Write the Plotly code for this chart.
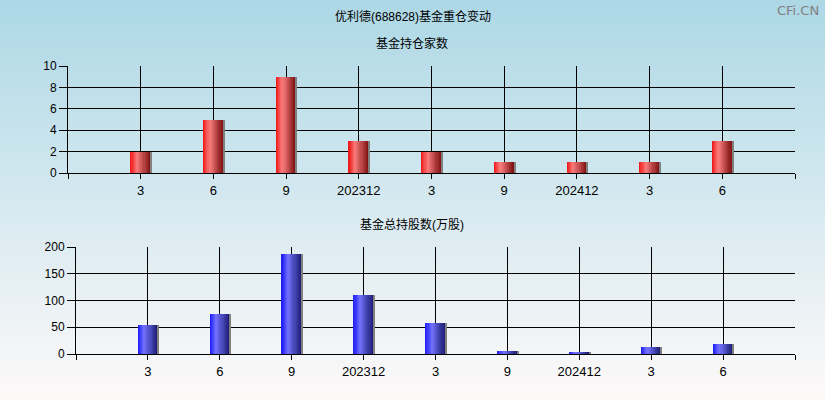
import plotly.graph_objects as go

# ---------------- data ----------------
categories = ["3", "6", "9", "202312", "3", "9", "202412", "3", "6"]
fund_count = [2, 5, 9, 3, 2, 1, 1, 1, 3]
fund_shares = [55, 75, 187, 110, 58, 6, 2, 14, 19]

title_main = "优利德(688628)基金重仓变动"
title_top = "基金持仓家数"
title_bottom = "基金总持股数(万股)"
watermark = "CFi.CN"

# ---------------- helpers ----------------
W, H = 825, 400


def lerp(c1, c2, t):
    return tuple(round(a + (b - a) * t) for a, b in zip(c1, c2))


def ramp(stops, u):
    for (u0, c0), (u1, c1) in zip(stops, stops[1:]):
        if u <= u1:
            return lerp(c0, c1, (u - u0) / (u1 - u0) if u1 > u0 else 0)
    return stops[-1][1]


red_stops = [(0.0, (238, 20, 20)), (0.33, (250, 125, 125)), (1.0, (125, 18, 18))]
blue_stops = [(0.0, (25, 25, 245)), (0.33, (115, 115, 255)), (1.0, (28, 28, 115))]

x_pos = list(range(1, len(categories) + 1))

fig = go.Figure()

N = 18
bw = 0.27
half = bw / 2


def add_bars(values, stops, xa, ya):
    sw = bw / N
    for i in range(N):
        u = (i + 0.5) / N
        r, g, b = ramp(stops, u)
        fig.add_trace(go.Bar(
            x=x_pos, y=values, xaxis=xa, yaxis=ya,
            width=sw * 1.6 if i < N - 1 else sw,
            offset=-half + i * sw,
            marker=dict(color=f"rgb({r},{g},{b})", line=dict(width=0)),
            showlegend=False, hoverinfo="skip",
        ))
    # shadow strip
    fig.add_trace(go.Bar(
        x=x_pos, y=values, xaxis=xa, yaxis=ya,
        width=0.02, offset=half,
        marker=dict(color="rgb(128,128,128)", line=dict(width=0)),
        showlegend=False, hoverinfo="skip",
    ))


add_bars(fund_count, red_stops, "x", "y")
add_bars(fund_shares, blue_stops, "x2", "y2")

# ---------------- background gradient ----------------
top_c = (173, 216, 230)
bot_c = (253, 249, 249)
shapes = []
bands = 80
for k in range(bands):
    t = k / (bands - 1)
    r, g, b = lerp(top_c, bot_c, t)
    shapes.append(dict(
        type="rect", xref="paper", yref="paper", layer="below",
        x0=0, x1=1, y0=max(0, 1 - (k + 1) / bands - 0.002), y1=1 - k / bands,
        fillcolor=f"rgb({r},{g},{b})", line=dict(width=0),
    ))

tickfont = dict(family="Liberation Sans, Arial, sans-serif", size=12, color="black")
xtickfont = dict(family="Liberation Sans, Arial, sans-serif", size=13, color="black")

xticks = list(range(0, len(categories) + 2))
xtext = [""] + categories + [""]

common_x = dict(
    range=[0, len(categories) + 1], tickmode="array", tickvals=xticks, ticktext=xtext,
    showgrid=True, gridcolor="black", gridwidth=1, zeroline=False,
    showline=True, linecolor="black", linewidth=1, automargin=False,
    ticks="outside", ticklen=5, tickcolor="black", tickfont=xtickfont, fixedrange=True,
)
common_y = dict(
    showgrid=True, gridcolor="black", gridwidth=1, zeroline=False,
    showline=True, linecolor="black", linewidth=1, automargin=False,
    ticks="outside", ticklen=8, tickcolor="black", tickfont=tickfont, fixedrange=True,
)

cjk = "Liberation Sans, Noto Sans CJK SC, sans-serif"

fig.update_layout(
    width=W, height=H,
    margin=dict(l=0, r=0, t=0, b=0, pad=0),
    paper_bgcolor="rgb(230,240,244)",
    plot_bgcolor="rgba(0,0,0,0)",
    barmode="overlay",
    bargap=0,
    shapes=shapes,
    xaxis=dict(domain=[68 / W, 795 / W], anchor="y", **common_x),
    yaxis=dict(domain=[1 - 173 / H, 1 - 66 / H], anchor="x", range=[0, 10], dtick=2, **common_y),
    xaxis2=dict(domain=[76 / W, 795 / W], anchor="y2", **common_x),
    yaxis2=dict(domain=[1 - 354 / H, 1 - 247 / H], anchor="x2", range=[0, 200], dtick=50, **common_y),
    annotations=[
        dict(text=title_main, x=413 / W, y=1 - 17 / H, xref="paper", yref="paper",
             xanchor="center", yanchor="middle",
             showarrow=False, font=dict(family=cjk, size=12, color="black")),
        dict(text=title_top, x=412 / W, y=1 - 43 / H, xref="paper", yref="paper",
             xanchor="center", yanchor="middle",
             showarrow=False, font=dict(family=cjk, size=12, color="black")),
        dict(text=title_bottom, x=412 / W, y=1 - 224 / H, xref="paper", yref="paper",
             xanchor="center", yanchor="middle",
             showarrow=False, font=dict(family=cjk, size=12, color="black")),
        dict(text=watermark, x=821 / W, y=1 - 10 / H, xref="paper", yref="paper",
             xanchor="right", yanchor="middle", showarrow=False,
             font=dict(family="DejaVu Sans, sans-serif", size=13, color="rgb(128,128,128)")),
    ],
)

fig.write_html(
    "out.html",
    config={"displayModeBar": False},
    post_script="document.body.style.margin='0';document.body.style.overflow='hidden';",
)
